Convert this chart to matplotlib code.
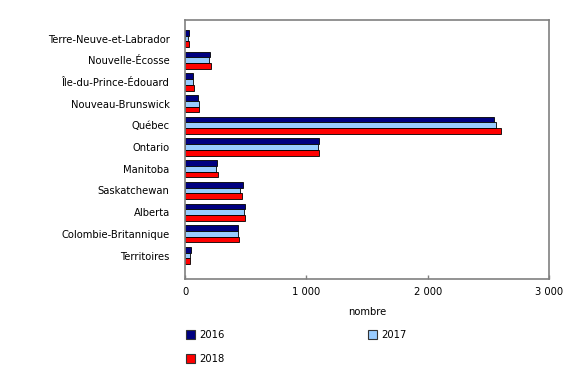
import matplotlib
matplotlib.use("Agg")
import matplotlib.pyplot as plt
import numpy as np
from matplotlib.patches import Patch
from matplotlib.ticker import FuncFormatter

categories = ["Terre-Neuve-et-Labrador", "Nouvelle-Écosse", "Île-du-Prince-Édouard",
              "Nouveau-Brunswick", "Québec", "Ontario", "Manitoba", "Saskatchewan",
              "Alberta", "Colombie-Britannique", "Territoires"]
v2016 = [33, 205, 64, 106, 2548, 1107, 262, 479, 498, 436, 46]
v2017 = [28, 200, 68, 112, 2561, 1096, 258, 455, 487, 438, 40]
v2018 = [33, 213, 72, 117, 2600, 1104, 270, 466, 493, 444, 43]
years = ["2016", "2017", "2018"]
colors = ["#000080", "#99CCFF", "#FF0000"]
xticks = [0, 1000, 2000, 3000]

plt.rcParams['font.family'] = ['DejaVu Sans']
fig = plt.figure(figsize=(5.8, 3.7), dpi=100)
ax = fig.add_axes([185/580, 1-279/370, (549.3-185)/580, (279-19.7)/370])

y = np.arange(len(categories))
h = 0.265
for i, (vals, c) in enumerate(zip([v2016, v2017, v2018], colors)):
    ax.barh(y + (i-1)*h, vals, height=h, color=c, edgecolor="#000000", linewidth=0.6)

ax.set_ylim(len(categories)-1+1.08, -0.87)
ax.set_xlim(0, 3000)
ax.set_yticks(y)
ax.set_yticklabels(categories, fontsize=7.2)
ax.tick_params(axis='y', length=0, pad=11)
ax.set_xticks(xticks)
ax.xaxis.set_major_formatter(FuncFormatter(lambda v, p: f"{int(v):,}".replace(",", " ")))
ax.tick_params(axis='x', direction='in', length=3, width=1, color="#808080", labelsize=7.2, pad=6)
for s in ax.spines.values():
    s.set_color("#808080")
    s.set_linewidth(1.2)
ax.set_xlabel("nombre", fontsize=7.2, labelpad=7)

handles = [Patch(facecolor=c, edgecolor="#333333", linewidth=0.8) for c in colors]
order = [0, 2, 1]
fig.legend([handles[i] for i in order], [years[i] for i in order],
           loc="upper left", bbox_to_anchor=(182/580, 1-326/370), ncol=2,
           frameon=False, fontsize=7.2, handlelength=0.9, handleheight=0.9,
           handletextpad=0.4, columnspacing=14.4, labelspacing=1.4, borderaxespad=0)

fig.savefig("out.png", dpi=100)
